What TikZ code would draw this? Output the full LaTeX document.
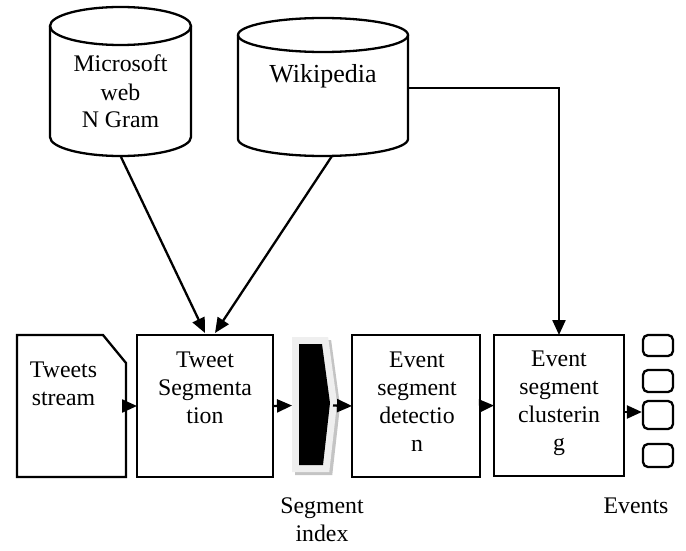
\documentclass[tikz,border=0pt]{standalone}
\usepackage{fontspec}
\setmainfont{Liberation Serif}
\usetikzlibrary{arrows.meta}
\definecolor{idxlight}{HTML}{EFEFEF}
\definecolor{idxshadow}{HTML}{C4C4C4}
\begin{document}
\begin{tikzpicture}[x=1pt,y=-1pt,
  ln/.style={line width=2.3pt},
  arr/.style={line width=2.3pt,-{Triangle[length=15pt,width=13pt]}},
  boxnode/.style={rectangle,inner sep=0pt,outer sep=0pt},
  txt/.style={inner sep=0pt,align=center,anchor=base,font=\fontsize{23.8}{28}\selectfont},
  bigtxt/.style={txt,font=\fontsize{26}{30}\selectfont},
  evbox/.style={rectangle,draw,line width=2.3pt,rounded corners=5pt,minimum width=30pt,inner sep=0pt}
]
\useasboundingbox (0,0) rectangle (686,551);

% --- cylinders ---
\draw[ln] (50,26) -- (50,137) arc[start angle=180,end angle=0,x radius=70.5,y radius=19] -- (191,26);
\draw[ln] (120.5,26) ellipse [x radius=70.5, y radius=19];
\coordinate (msb) at (121,157);
\node[txt] (mst) at (120.5,128) {Microsoft\\web\\N Gram};

\draw[ln] (238,35) -- (238,139) arc[start angle=180,end angle=0,x radius=85,y radius=17] -- (408,35);
\draw[ln] (323,35) ellipse [x radius=85, y radius=17];
\coordinate (wkb) at (332,156);
\coordinate (wkr) at (408,88);
\node[bigtxt] (wkt) at (323,82) {Wikipedia};

% --- process boxes ---
\node[boxnode,minimum width=109pt,minimum height=142pt] (ts) at (71.5,406) {};
\draw[ln,line join=miter] (ts.north west) -- (103,335) -- (126,363) -- (ts.south east) -- (ts.south west) -- cycle;
\node[txt] (tst) at (63.5,405) {Tweets\\stream};

\node[boxnode,draw,line width=2.3pt,minimum width=136pt,minimum height=142pt] (seg) at (205,406) {};
\node[txt] (segt) at (205,423) {Tweet\\Segmenta\\tion};

% segment index shape
\node[boxnode,minimum width=41pt,minimum height=137pt] (idx) at (312.5,405.5) {};
\begin{scope}[shift={(3,3)}]
\filldraw[draw=idxshadow,fill=idxshadow,line width=14pt] (299,344) -- (322,344) -- (330,403) -- (323,465) -- (299,465) -- cycle;
\end{scope}
\filldraw[draw=idxlight,fill=idxlight,line width=14pt] (299,344) -- (322,344) -- (330,403) -- (323,465) -- (299,465) -- cycle;
\fill[black] (299,344) -- (322,344) -- (330,403) -- (323,465) -- (299,465) -- cycle;
\node[txt] (idxt) at (322,541) {Segment\\index};

\node[boxnode,draw,line width=2.3pt,minimum width=128pt,minimum height=142pt] (det) at (416,406) {};
\node[txt] (dett) at (417,451) {Event\\segment\\detectio\\n};

\node[boxnode,draw,line width=2.3pt,minimum width=130pt,minimum height=141pt] (clu) at (559,405.5) {};
\node[txt] (clut) at (559,450) {Event\\segment\\clusterin\\g};

% events
\node[evbox,minimum height=21pt] (ev1) at (658,345.5) {};
\node[evbox,minimum height=22pt] (ev2) at (658,381) {};
\node[evbox,minimum height=28pt] (ev3) at (658,415) {};
\node[evbox,minimum height=23pt] (ev4) at (658,455.5) {};
\node[txt] (evt) at (636,513) {Events};

% --- connectors ---
\draw[arr] (msb) -- ([xshift=0pt,yshift=2pt]seg.north);
\draw[arr] (wkb) -- ([xshift=10pt,yshift=2pt]seg.north);
\draw[arr] (wkr) -| (clu.north);
\draw[arr] (ts.east) -- (seg.west);
\draw[arr] (seg.east) -- (idx.west);
\draw[arr] (idx.east) -- (det.west);
\draw[arr] (det.east) -- (clu.west);
\draw[arr] (clu.east |- 0,412) -- ([yshift=3pt]ev3.west);
\end{tikzpicture}
\end{document}
